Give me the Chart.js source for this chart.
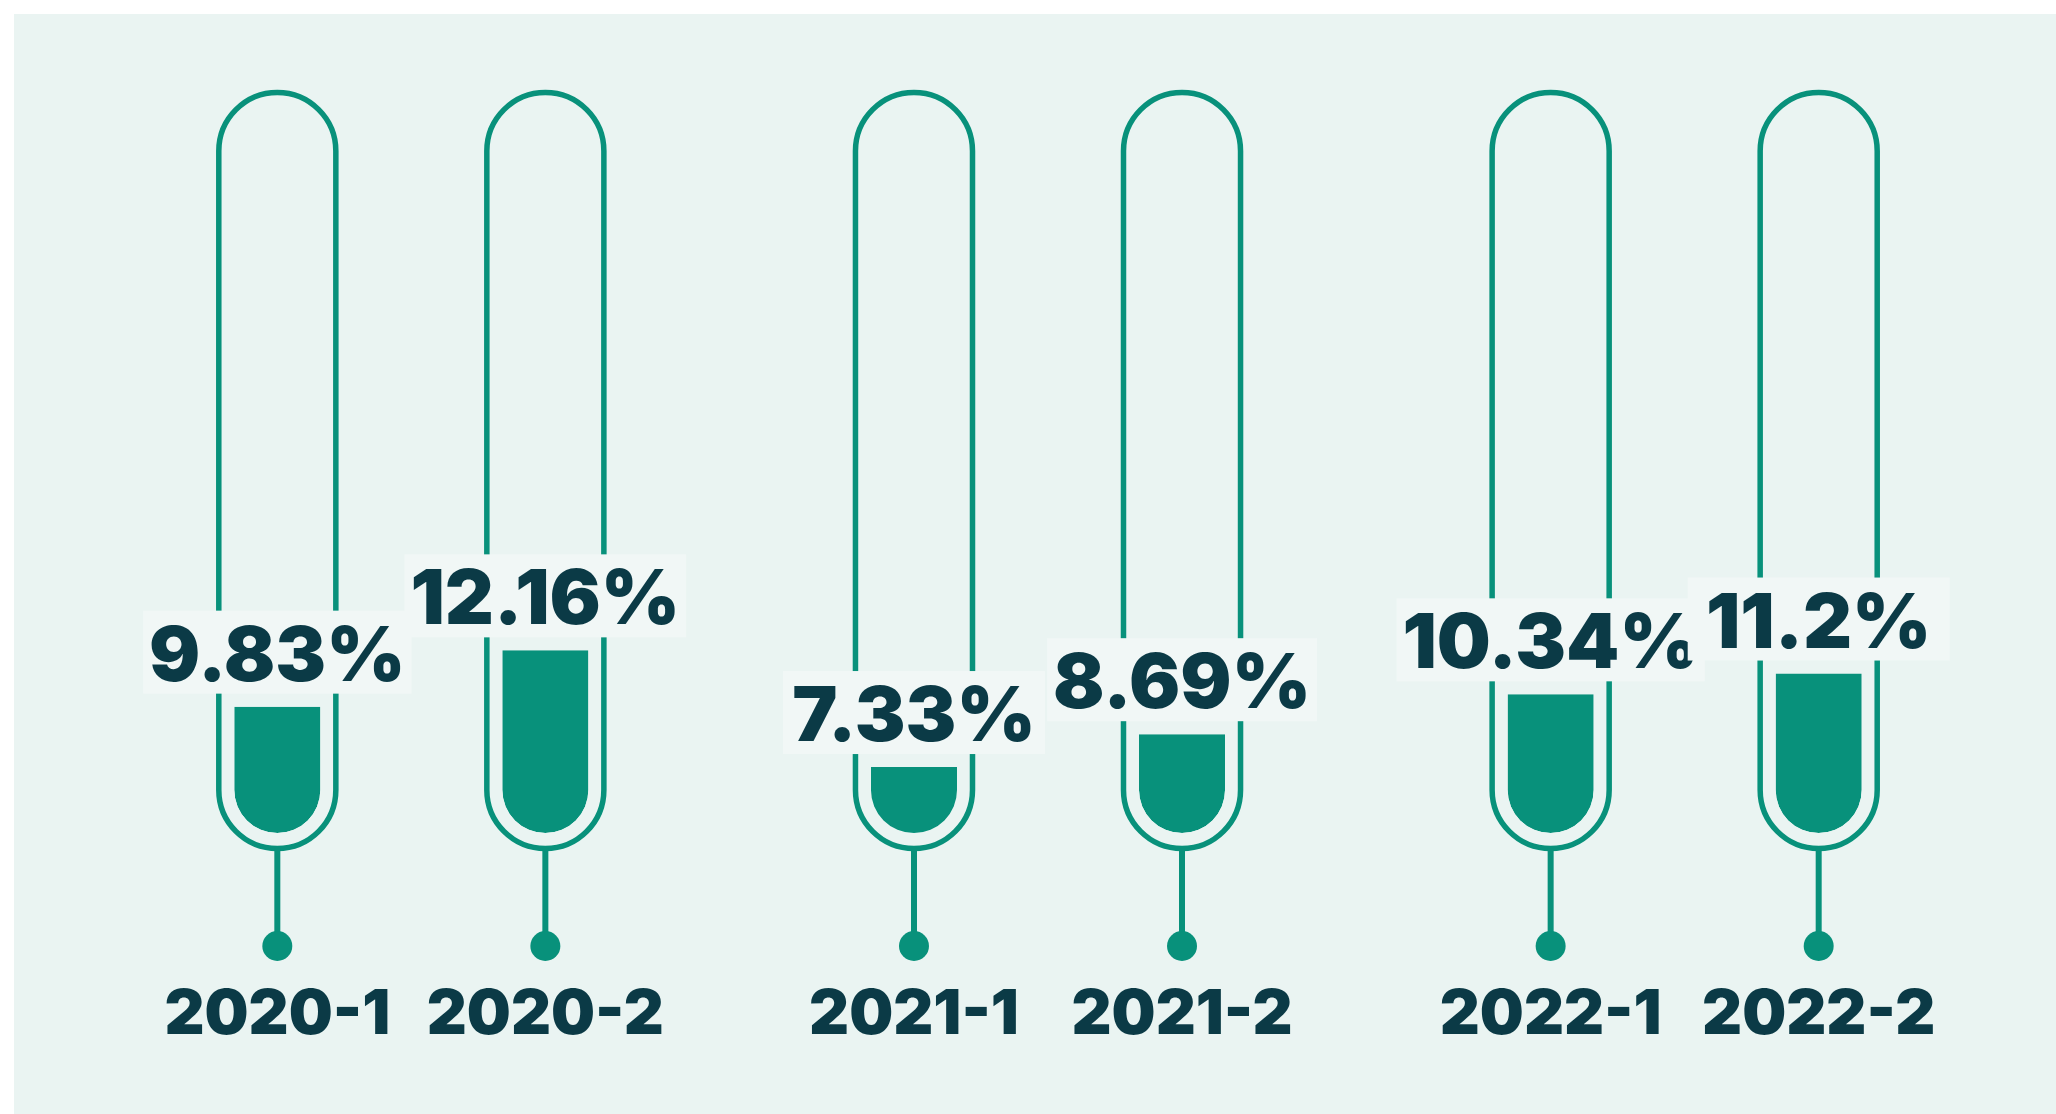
<!DOCTYPE html>
<html>
<head>
    <meta charset="utf-8" />
    <title>Half-year rates</title>
    <script src="https://cdn.jsdelivr.net/npm/chart.js@4.4.1/dist/chart.umd.min.js"></script>
    <style>
        html, body { margin: 0; padding: 0; background: #ffffff; }
        #wrap { width: 2056px; height: 1114px; }
    </style>
</head>
<body>
    <div id="wrap"><canvas id="rateChart" width="2056" height="1114"></canvas></div>

    <script>
        // Data
        const years = ['2020', '2021', '2022'];
        const firstHalf = [9.83, 7.33, 10.34];
        const secondHalf = [12.16, 8.69, 11.2];
        const firstHalfLabels = ['2020-1', '2021-1', '2022-1'];
        const secondHalfLabels = ['2020-2', '2021-2', '2022-2'];

        const yMin = 4.6;   // empty tube
        const yMax = 35.25; // full tube

        const teal = '#08917B';
        const ink = '#0B3A46';
        const panel = '#EAF4F2';
        const labelBox = '#F1F7F6';
        const fontFamily = '"Inter", "DejaVu Sans", sans-serif';

        // Draws the background panel, the glass tubes, stems, value boxes and period labels
        const tubePlugin = {
            id: 'tubes',
            beforeDraw(chart) {
                const { ctx, width, height } = chart;
                ctx.save();
                ctx.fillStyle = '#ffffff';
                ctx.fillRect(0, 0, width, height);
                ctx.fillStyle = panel;
                ctx.fillRect(14, 14, width - 14, height - 14);
                ctx.restore();
            },
            beforeDatasetsDraw(chart) {
                const { ctx, chartArea } = chart;
                ctx.save();
                ctx.strokeStyle = teal;
                ctx.fillStyle = teal;
                chart.data.datasets.forEach((ds, i) => {
                    chart.getDatasetMeta(i).data.forEach(bar => {
                        const half = bar.width / 2;
                        const r = half + 15.5;
                        const topC = chartArea.top + r;
                        const botC = bar.base - half;
                        ctx.lineWidth = 5.5;
                        ctx.beginPath();
                        ctx.moveTo(bar.x - r, botC);
                        ctx.lineTo(bar.x - r, topC);
                        ctx.arc(bar.x, topC, r, Math.PI, 0);
                        ctx.lineTo(bar.x + r, botC);
                        ctx.arc(bar.x, botC, r, 0, Math.PI);
                        ctx.stroke();

                        // stem and knob
                        ctx.lineWidth = 6;
                        ctx.beginPath();
                        ctx.moveTo(bar.x, botC + r);
                        ctx.lineTo(bar.x, bar.base + 105);
                        ctx.stroke();
                        ctx.beginPath();
                        ctx.arc(bar.x, bar.base + 113, 15, 0, Math.PI * 2);
                        ctx.fill();
                    });
                });
                ctx.restore();

                // clip the bars to a liquid shape: straight sides and a half-round bottom
                ctx.save();
                ctx.beginPath();
                chart.data.datasets.forEach((ds, i) => {
                    chart.getDatasetMeta(i).data.forEach(bar => {
                        const half = bar.width / 2;
                        const botC = bar.base - half;
                        ctx.moveTo(bar.x - half, bar.y);
                        ctx.lineTo(bar.x + half, bar.y);
                        ctx.lineTo(bar.x + half, botC);
                        ctx.arc(bar.x, botC, half, 0, Math.PI);
                        ctx.closePath();
                    });
                });
                ctx.clip();
            },
            afterDatasetsDraw(chart) {
                const { ctx } = chart;
                ctx.restore();
                ctx.save();
                chart.data.datasets.forEach((ds, i) => {
                    chart.getDatasetMeta(i).data.forEach((bar, j) => {
                        // value box
                        const text = ds.data[j] + '%';
                        ctx.font = '900 76px ' + fontFamily;
                        const tw = ctx.measureText(text).width;
                        const boxW = Math.max(262, tw + 12);
                        const boxH = 83;
                        const boxBottom = bar.y - 13;
                        ctx.fillStyle = labelBox;
                        ctx.fillRect(bar.x - boxW / 2, boxBottom - boxH, boxW, boxH);
                        ctx.fillStyle = ink;
                        ctx.textAlign = 'center';
                        ctx.textBaseline = 'alphabetic';
                        ctx.fillText(text, bar.x, boxBottom - 13);

                        // period label under the knob
                        ctx.font = '900 62px ' + fontFamily;
                        ctx.fillText(ds.periods[j], bar.x, bar.base + 201);
                    });
                });
                ctx.restore();
            }
        };

        const ctx = document.getElementById('rateChart').getContext('2d');
        new Chart(ctx, {
            type: 'bar',
            data: {
                labels: years,
                datasets: [
                    { label: 'H1', data: firstHalf, periods: firstHalfLabels },
                    { label: 'H2', data: secondHalf, periods: secondHalfLabels }
                ].map(ds => Object.assign(ds, {
                    base: yMin,
                    backgroundColor: teal,
                    borderWidth: 0,
                    borderSkipped: false,
                    borderRadius: { topLeft: 0, topRight: 0, bottomLeft: 43, bottomRight: 43 },
                    categoryPercentage: 0.842,
                    barPercentage: 0.321
                }))
            },
            options: {
                responsive: false,
                animation: false,
                layout: { padding: { left: 93, right: 53, top: 92.5, bottom: 281 } },
                plugins: { legend: { display: false }, tooltip: { enabled: false } },
                scales: {
                    x: { display: false, grid: { display: false } },
                    y: { display: false, min: yMin, max: yMax, grid: { display: false } }
                }
            },
            plugins: [tubePlugin]
        });
    </script>
</body>
</html>
